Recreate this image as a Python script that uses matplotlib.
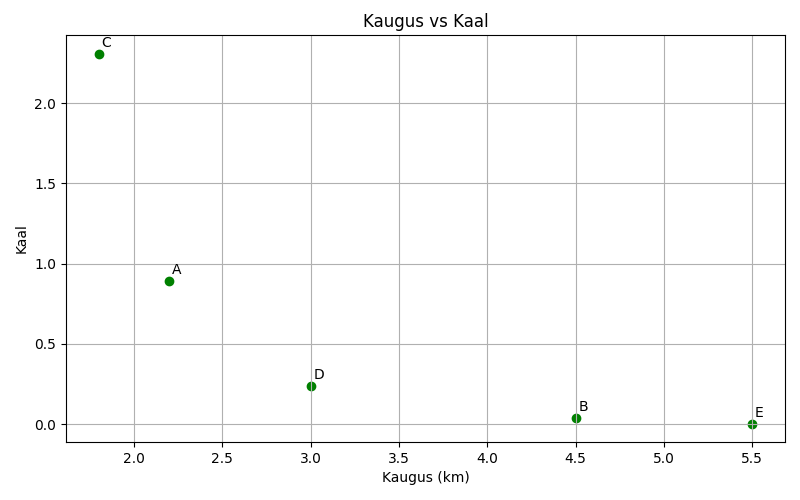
import matplotlib
matplotlib.use('Agg')
import matplotlib.pyplot as plt

labels = ['A', 'B', 'C', 'D', 'E']
kaugus = [2.2, 4.5, 1.8, 3.0, 5.5]
kaal = [0.89, 0.04, 2.31, 0.24, 0.004]

plt.figure(figsize=(8, 5), dpi=100)
plt.scatter(kaugus, kaal, color='green')
for lab, x, y in zip(labels, kaugus, kaal):
    plt.annotate(lab, (x, y), textcoords='offset points', xytext=(2, 5))
plt.title('Kaugus vs Kaal')
plt.xlabel('Kaugus (km)')
plt.ylabel('Kaal')
plt.grid(True)
plt.subplots_adjust(left=0.0825, right=0.98125, top=0.93, bottom=0.116)
plt.savefig('out.png')
